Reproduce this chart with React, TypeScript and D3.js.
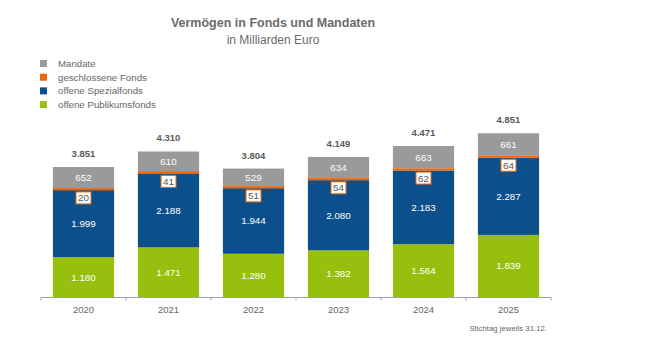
import React from "react";
import * as d3 from "d3";

const years = ["2020", "2021", "2022", "2023", "2024", "2025"];
const publikum = [1180, 1471, 1280, 1382, 1564, 1839];
const spezial = [1999, 2188, 1944, 2080, 2183, 2287];
const geschlossen = [20, 41, 51, 54, 62, 64];
const mandate = [652, 610, 529, 634, 663, 661];
const totals = ["3.851", "4.310", "3.804", "4.149", "4.471", "4.851"];
const legendLabels = ["Mandate", "geschlossene Fonds", "offene Spezialfonds", "offene Publikumsfonds"];

const C = { green: "#97bf0d", blue: "#0b4f8c", orange: "#ec6608", gray: "#9a9a9a" };
const fmt = (v: number) => d3.format(",")(v).replace(/,/g, ".");

export default function App() {
  const W = 651, H = 337;
  const x = d3.scaleBand<string>().domain(years).range([41, 551]).paddingInner(0.28).paddingOuter(0.14);
  const y = d3.scaleLinear().domain([0, 5000]).range([297, 297 - 168.8]);
  const font = "'Liberation Sans', Arial, sans-serif";
  const legendColors = [C.gray, C.orange, C.blue, C.green];
  const band = 510 / 6;
  return (
    <svg width={W} height={H} style={{ position: "absolute", left: 0, top: 0 }} fontFamily={font}>
      <rect width={W} height={H} fill="#fff" />
      <text x={273} y={27} textAnchor="middle" fontSize={12.5} fontWeight="bold" fill="#6b6b6b">Vermögen in Fonds und Mandaten</text>
      <text x={273} y={44} textAnchor="middle" fontSize={12} fill="#6b6b6b">in Milliarden Euro</text>
      {legendLabels.map((l, i) => (
        <g key={l}>
          <rect x={40} y={60 + i * 13.7} width={7} height={7} fill={legendColors[i]} />
          <text x={58} y={66.8 + i * 13.7} fontSize={9.7} fill="#666">{l}</text>
        </g>
      ))}
      {years.map((yr, i) => {
        const bx = x(yr)!;
        const bw = x.bandwidth();
        const cx = bx + bw / 2;
        const g0 = 0, g1 = publikum[i];
        const s1 = g1 + spezial[i];
        const o1 = s1 + geschlossen[i];
        const m1 = o1 + mandate[i];
        const oTop = y(o1), oBot = y(s1);
        const oh = Math.max(oBot - oTop, 2.2);
        const oMid = (oTop + oBot) / 2;
        const label = String(geschlossen[i]);
        const boxW = 15;
        const boxY = oMid + oh / 2 + 1.5;
        return (
          <g key={yr}>
            <rect x={bx} y={y(g1)} width={bw} height={y(g0) - y(g1)} fill={C.green} />
            <rect x={bx} y={y(s1)} width={bw} height={y(g1) - y(s1)} fill={C.blue} />
            <rect x={bx} y={y(m1)} width={bw} height={y(o1) - y(m1)} fill={C.gray} />
            <rect x={bx} y={oMid - oh / 2} width={bw} height={oh} fill={C.orange} />
            <text x={cx} y={(y(g0) + y(g1)) / 2 + 3.5} textAnchor="middle" fontSize={9.8} fill="#fff">{fmt(publikum[i])}</text>
            <text x={cx} y={(y(g1) + y(s1)) / 2 + 3.5} textAnchor="middle" fontSize={9.8} fill="#fff">{fmt(spezial[i])}</text>
            <text x={cx} y={(y(o1) + y(m1)) / 2 + 3.5} textAnchor="middle" fontSize={9.8} fill="#fff">{fmt(mandate[i])}</text>
            <rect x={cx - boxW / 2} y={boxY} width={boxW} height={12} fill="#fff" stroke={C.orange} strokeWidth={1} />
            <text x={cx} y={boxY + 9.5} textAnchor="middle" fontSize={9.8} fill="#555">{label}</text>
            <text x={cx} y={y(m1) - 10} textAnchor="middle" fontSize={9.5} fontWeight="bold" fill="#595959">{totals[i]}</text>
            <text x={cx} y={312.5} textAnchor="middle" fontSize={9.5} fill="#666">{yr}</text>
          </g>
        );
      })}
      <line x1={41} x2={551} y1={297.5} y2={297.5} stroke="#9aa3bd" strokeWidth={1} />
      {d3.range(7).map((k) => (
        <line key={k} x1={41 + k * band} x2={41 + k * band} y1={297} y2={300.5} stroke="#9aa3bd" strokeWidth={1} />
      ))}
      <text x={547} y={331} textAnchor="end" fontSize={7.8} fill="#666">Stichtag jeweils 31.12.</text>
    </svg>
  );
}
